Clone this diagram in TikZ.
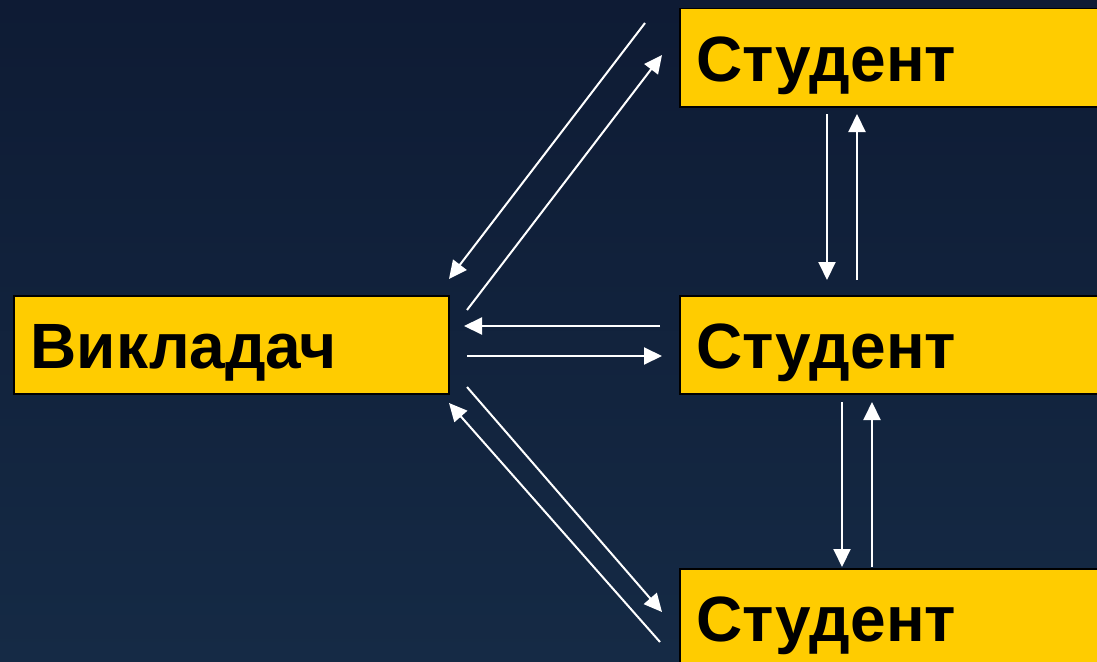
\documentclass[tikz,border=0pt]{standalone}
\usepackage{fontspec}
\setmainfont{Liberation Sans}
\usetikzlibrary{arrows.meta}
\definecolor{bgtop}{HTML}{0E1B34}
\definecolor{bgbot}{HTML}{152A45}
\definecolor{boxyellow}{HTML}{FFCC00}
\tikzset{
  box/.style={draw=black, line width=1.5pt, fill=boxyellow, anchor=north west,
    inner xsep=17pt, inner ysep=25pt, text height=47pt, text depth=0pt,
    align=left, font=\fontsize{64}{70}\selectfont\bfseries, text=black},
  link/.style={draw=white, line width=2pt, -{Triangle[length=18pt,width=17pt]}}
}
\begin{document}
\begin{tikzpicture}[x=1pt,y=-1pt]
\useasboundingbox (0,0) rectangle (1097,661);
\clip (0,0) rectangle (1097,661);
\shade[top color=bgtop, bottom color=bgbot] (0,0) rectangle (1097,661);
\node[box, text width=401pt, minimum width=435pt, minimum height=98pt] (teacher) at (13,295) {Викладач};
\node[box, text width=400pt, minimum width=434pt, minimum height=98pt] (s1) at (679,8) {Студент};
\node[box, text width=400pt, minimum width=434pt, minimum height=98pt] (s2) at (679,295) {Студент};
\node[box, text width=400pt, minimum width=434pt, minimum height=98pt] (s3) at (679,568) {Студент};
% coordinates for arrow ends
\coordinate (a1s) at (645,23);  \coordinate (a1e) at (449,279);
\coordinate (a2s) at (467,310); \coordinate (a2e) at (662,55);
\coordinate (h1s) at (660,326); \coordinate (h1e) at (464,326);
\coordinate (h2s) at (467,356); \coordinate (h2e) at (662,356);
\coordinate (d1s) at (467,387); \coordinate (d1e) at (662,612);
\coordinate (d2s) at (660,642); \coordinate (d2e) at (449,403);
\coordinate (v1s) at (827,114); \coordinate (v1e) at (827,280);
\coordinate (v2s) at (857,280); \coordinate (v2e) at (857,114);
\coordinate (v3s) at (842,402); \coordinate (v3e) at (842,567);
\coordinate (v4s) at (872,567); \coordinate (v4e) at (872,402);
\draw[link] (a1s) -- (a1e);
\draw[link] (a2s) -- (a2e);
\draw[link] (h1s) -- (h1e);
\draw[link] (h2s) -- (h2e);
\draw[link] (d1s) -- (d1e);
\draw[link] (d2s) -- (d2e);
\draw[link] (v1s) -- (v1e);
\draw[link] (v2s) -- (v2e);
\draw[link] (v3s) -- (v3e);
\draw[link] (v4s) -- (v4e);
\end{tikzpicture}
\end{document}
